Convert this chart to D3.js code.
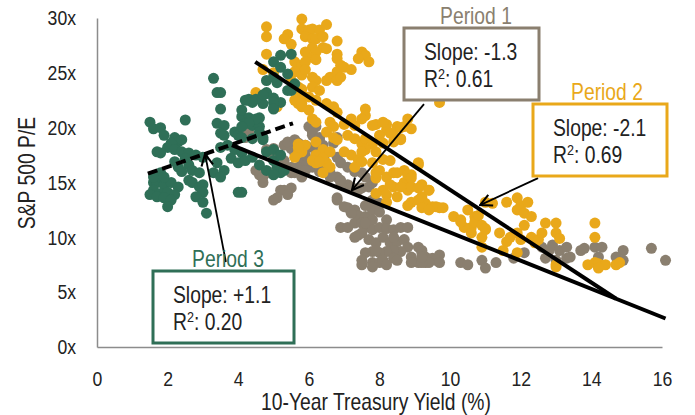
<!DOCTYPE html>
<html>
<head>
<meta charset="utf-8">
<script src="https://cdn.jsdelivr.net/npm/d3@7"></script>
<style>
  body { margin: 0; background: #fff; }
  svg { font-family: "Liberation Sans", Arial, sans-serif; }
</style>
</head>
<body>
<svg id="chart" width="695" height="415"></svg>
<script>
"use strict";

// yield (%), S&P 500 P/E
let period1 = [
  [4.2,19.8],[4.3,19.3],[5.3,18.4],[5.5,18.1],[5.6,17.7],[5.8,17.2],[5.9,16.9],[6.1,16.4],[6.3,16.0],[6.6,15.9],
  [6.8,15.5],[6.9,15.0],[7.1,14.8],[7.2,14.6],[7.4,14.3],[7.5,14.5],[7.7,14.6],[5.9,18.4],[6.1,18.2],[6.0,20.1],
  [6.1,19.3],[6.3,18.9],[6.5,17.7],[6.8,17.3],[6.9,16.8],[7.1,16.4],[7.3,16.0],[7.5,15.9],[7.6,15.5],[7.8,15.0],
  [4.6,15.7],[4.7,15.0],[5.2,14.3],[5.5,14.5],[5.1,13.6],[6.8,13.6],[7.1,12.7],[7.3,12.5],[6.9,10.9],[7.1,10.9],
  [7.3,11.3],[7.4,12.0],[7.6,11.9],[7.8,12.5],[8.0,12.3],[8.2,11.6],[7.8,11.6],[7.6,10.9],[7.8,10.7],[8.0,10.9],
  [8.2,10.8],[8.4,10.7],[8.6,10.9],[7.4,10.2],[7.5,10.4],[7.7,9.8],[7.9,9.5],[8.1,10.0],[8.3,9.5],[8.5,9.6],
  [8.7,9.8],[8.8,9.1],[8.6,8.7],[8.4,8.8],[8.2,8.7],[8.0,8.6],[7.8,8.7],[7.6,8.6],[7.5,7.9],[7.5,7.5],
  [7.8,7.7],[8.0,7.7],[8.1,7.9],[8.4,8.1],[8.5,7.9],[8.9,8.2],[9.1,9.1],[9.2,8.6],[9.3,8.2],[9.5,8.1],
  [9.7,8.4],[9.1,7.7],[8.9,7.7],[9.3,7.7],[10.3,7.7],[10.5,7.5],[7.8,13.4],[8.0,13.1],[7.6,12.9],[6.8,13.4],
  [7.0,12.8],[7.2,12.2],[7.3,10.0],[7.9,8.8],[8.4,10.0],[8.8,10.9],[9.2,8.8],[9.6,7.9],[9.4,7.7],[9.2,7.7],
  [8.2,7.5],[7.8,7.3],[10.9,7.9],[11.0,7.2],[11.3,7.7],[11.8,8.1],[12.1,8.6],[12.6,9.1],[12.8,8.8],[12.9,9.3],
  [12.7,8.1],[13.1,8.8],[13.3,9.1],[13.3,8.1],[13.7,8.8],[13.8,9.0],[14.1,9.1],[14.3,9.1],[14.2,8.2],[14.9,8.8],
  [14.9,7.9],[15.7,9.0],[16.1,7.9],[9.7,7.7],[13.0,7.9],[13.4,8.2],[14.7,8.2],[9.2,8.2],[4.3,19.6],[4.2,19.1],
  [4.8,18.0],[5.0,18.1],[5.4,18.7],[5.6,18.9],[5.7,18.6],[5.8,18.1],[5.9,17.5],[4.5,16.1],[4.7,15.5],[4.9,15.9],
  [5.1,16.1],[5.3,16.4],[5.5,15.9],[5.7,16.4],[5.8,16.1],[6.2,20.1],[6.1,19.6],[6.3,19.1],[6.4,18.4],[6.7,18.6],
  [6.8,19.1],[6.2,18.0],[6.4,17.7],[5.0,17.3],[5.3,17.0],[5.5,16.4],[5.6,15.9],[5.8,15.5],[5.9,16.1],[6.4,16.4],
  [6.6,15.5],[6.9,15.2],[5.3,14.3],[5.4,13.9],[5.0,13.4],[7.5,11.3],[7.6,11.3]
];

let period2 = [
  [4.8,29.2],[4.8,28.3],[5.4,28.5],[5.3,28.1],[5.5,27.6],[5.8,29.9],[5.8,29.0],[6.0,28.9],[6.1,29.0],[6.3,28.9],
  [6.5,29.4],[5.9,28.3],[6.1,28.1],[6.2,28.1],[6.4,28.3],[6.8,27.9],[6.1,27.3],[6.4,27.3],[6.5,27.2],[6.2,26.9],
  [5.9,26.9],[6.1,26.4],[6.8,26.7],[6.8,26.3],[6.9,25.7],[7.5,26.9],[7.6,26.6],[7.4,26.3],[7.7,26.0],[4.8,26.7],
  [5.6,26.0],[5.8,25.7],[5.9,26.0],[6.2,26.2],[5.6,25.1],[5.8,24.8],[5.9,25.3],[6.1,24.6],[6.2,24.3],[6.5,24.3],
  [6.6,24.6],[6.8,25.1],[7.0,25.5],[7.2,25.3],[6.8,24.3],[6.9,24.6],[5.7,23.7],[5.8,23.5],[6.1,23.7],[6.3,23.4],
  [5.8,23.0],[6.0,22.8],[6.2,22.5],[4.5,23.2],[5.7,22.2],[5.8,21.9],[6.0,21.6],[6.5,22.2],[6.7,21.9],[6.8,21.4],
  [6.1,20.8],[6.2,20.5],[6.6,20.5],[6.7,20.1],[7.0,20.3],[7.2,20.8],[7.3,20.2],[7.6,21.7],[7.6,21.1],[7.5,20.8],
  [7.9,20.3],[8.2,20.3],[8.5,20.1],[8.8,20.8],[8.7,20.1],[8.2,19.8],[8.4,19.3],[8.6,19.0],[8.9,19.9],[9.1,23.4],
  [9.7,22.3],[6.5,19.6],[6.7,19.1],[6.8,18.9],[7.1,19.3],[7.3,19.0],[7.5,18.5],[7.6,19.0],[7.8,18.5],[7.6,18.0],
  [7.9,17.8],[7.5,17.8],[5.7,18.5],[5.9,18.4],[6.2,18.7],[6.4,18.0],[6.6,17.8],[6.2,17.5],[6.4,17.1],[7.0,17.8],
  [7.2,17.5],[7.4,17.1],[8.1,17.1],[8.3,17.0],[5.8,17.8],[5.7,17.7],[7.8,20.2],[8.1,20.5],[8.6,20.0],[8.3,19.5],
  [8.0,19.3],[8.1,18.6],[8.4,18.7],[8.6,18.9],[6.2,16.8],[6.5,16.8],[6.6,16.4],[6.4,17.2],[6.1,17.0],[7.3,16.4],
  [7.5,16.9],[7.8,16.8],[8.0,16.1],[7.9,15.4],[8.2,15.5],[8.4,15.9],[8.7,16.1],[8.9,15.7],[9.1,16.6],[8.7,15.0],
  [8.4,14.6],[8.1,14.3],[7.9,14.0],[8.2,13.9],[8.5,13.7],[8.8,14.3],[8.9,14.6],[9.2,14.8],[9.4,14.3],[9.2,13.7],
  [8.9,13.2],[8.8,12.9],[9.3,13.1],[9.5,12.8],[9.7,12.7],[10.1,11.9],[10.3,11.6],[10.5,12.5],[10.7,11.9],[10.6,10.9],
  [10.4,10.9],[10.7,11.4],[10.3,11.4],[10.6,10.4],[10.9,10.0],[11.0,10.7],[11.0,13.2],[11.2,13.1],[11.6,13.2],[11.9,13.6],
  [12.0,12.9],[12.2,13.2],[11.9,12.5],[12.1,12.2],[12.3,11.9],[11.4,10.4],[11.6,9.6],[11.7,10.0],[11.9,10.4],[12.1,11.1],
  [12.0,9.8],[12.3,10.0],[12.4,9.5],[12.5,9.8],[11.9,8.6],[11.5,8.8],[12.7,11.3],[13.0,11.3],[12.6,10.4],[13.0,10.4],
  [13.1,9.9],[14.1,11.3],[14.1,10.0],[10.9,9.1],[13.0,7.3],[13.9,7.5],[14.1,7.7],[14.2,7.6],[14.4,7.5],[14.7,7.5],
  [14.2,7.2],[4.7,25.3],[5.0,25.0],[5.5,24.3],[5.7,23.4],[5.6,22.5],[5.8,22.2],[5.1,21.9],[5.7,18.2],[5.6,17.3],
  [6.3,16.9],[6.4,15.9],[7.9,15.9],[8.5,15.9],[8.8,15.7],[8.9,15.4],[8.3,14.8],[8.6,14.6],[9.1,14.5],[9.4,14.3],
  [9.1,13.4],[9.6,12.8],[9.8,12.7],[8.2,13.2],[9.2,12.7],[9.4,12.5],[10.8,12.0],[10.9,11.1],[11.0,10.8],[9.1,16.8],
  [13.0,7.5],[14.8,7.7]
];

let period3 = [
  [3.3,24.5],[3.4,23.2],[3.5,23.2],[3.5,21.7],[2.5,20.7],[1.5,20.5],[1.6,19.9],[1.8,20.0],[1.9,19.3],[2.2,19.1],
  [2.3,18.7],[2.4,18.9],[3.4,20.4],[3.6,20.2],[3.5,19.5],[3.6,19.3],[4.1,21.0],[4.3,20.9],[4.5,20.7],[4.2,20.4],
  [4.4,20.2],[4.6,20.1],[3.9,19.6],[4.0,19.3],[4.8,23.2],[5.0,22.7],[4.7,22.2],[4.3,22.5],[5.0,21.8],[5.2,22.3],
  [4.8,24.3],[5.1,24.1],[5.4,23.4],[2.0,18.2],[2.1,18.6],[2.2,18.0],[2.4,17.8],[1.7,17.8],[1.8,17.7],[2.6,17.7],
  [2.8,17.5],[3.0,17.3],[2.5,17.2],[2.2,16.9],[2.3,16.4],[2.6,16.6],[2.7,16.1],[2.4,16.0],[2.9,15.9],[3.5,18.2],
  [3.7,18.4],[3.9,18.0],[4.1,17.7],[3.8,17.2],[4.0,16.8],[4.2,17.0],[3.4,16.8],[3.6,16.1],[3.3,15.9],[3.5,15.5],
  [4.4,17.3],[4.6,16.6],[4.8,16.1],[5.0,17.0],[5.1,16.4],[5.2,15.9],[5.0,15.7],[1.6,15.0],[1.7,15.0],[1.9,14.8],
  [2.1,15.0],[2.3,14.6],[1.6,14.3],[1.8,14.0],[2.0,14.1],[2.2,13.9],[1.5,13.9],[1.7,13.7],[1.9,13.6],[2.1,13.4],
  [2.0,12.8],[1.8,15.9],[1.9,15.5],[1.6,15.5],[2.6,15.2],[2.7,15.0],[2.9,14.6],[3.0,14.8],[3.0,14.1],[2.8,13.7],
  [3.0,13.2],[3.1,12.2],[4.0,14.1],[4.3,22.6],[4.6,20.9],[5.2,26.6],[5.5,26.7],[5.0,26.0],[5.2,25.5],[5.4,24.9],
  [5.0,24.6],[5.6,24.0],[5.5,23.4],[4.8,23.1],[4.5,22.6],[4.4,22.3],[4.7,23.0],[5.0,22.3],[5.0,21.7],[4.5,20.8],
  [4.6,19.6],[4.4,19.0],[4.7,19.1],[4.8,17.8],[5.0,18.0],[5.2,17.5],[4.2,22.5],[4.1,21.6],[4.3,20.4],[4.1,20.1],
  [4.1,19.1],[4.7,18.9],[5.3,16.1],[4.1,14.1]
];

let xTicks = [0, 2, 4, 6, 8, 10, 12, 14, 16];
let yTicks = [0, 5, 10, 15, 20, 25, 30];

// trend lines [x0, y0, x1, y1]
let fit1 = [3.82, 18.4, 16.1, 2.6];
let fit2 = [4.48, 26.0, 14.7, 4.4];
let fit3 = [1.44, 15.8, 5.55, 20.4];

let notes = [
  { title: "Period 1", slope: "Slope: -1.3", r2: "0.61", color: "#8a7f6f", box: [404, 28, 135, 72], titleX: 476, arrow: [9.26, 22.15, 7.22, 14.3] },
  { title: "Period 2", slope: "Slope: -2.1", r2: "0.69", color: "#e9a81a", box: [533, 104, 134, 72], titleX: 607, arrow: [12.49, 15.4, 10.85, 12.94] },
  { title: "Period 3", slope: "Slope: +1.1", r2: "0.20", color: "#2f6f57", box: [153, 271, 141, 72], titleX: 228, arrow: [3.65, 7.75, 3.06, 17.6] }
];

const NARROW = 0.84;
// squeeze text horizontally round its x, to get a narrow face
function condense(sel) {
  sel.each(function () {
    let t = d3.select(this);
    let ax = +t.attr("x") || 0;
    t.attr("transform", `translate(${ax},0) scale(${NARROW},1) translate(${-ax},0)`);
  });
}

let svg = d3.select("#chart");
let x = d3.scaleLinear().domain([0, 16]).range([97, 662]);
let y = d3.scaleLinear().domain([0, 30]).range([347, 18]);

let axisColor = "#8c8c8c";

let gx = svg.append("g").attr("transform", "translate(0,347)")
  .call(d3.axisBottom(x).tickValues(xTicks).tickSize(0).tickPadding(24));
let gy = svg.append("g").attr("transform", "translate(97,0)")
  .call(d3.axisLeft(y).tickValues(yTicks).tickSize(0).tickPadding(21).tickFormat(d => d + "x"));
[gx, gy].forEach(g => {
  g.select(".domain").attr("stroke", axisColor).attr("stroke-width", 1.5);
  g.selectAll("text").attr("fill", "#222").style("font-size", "21px").call(condense);
});

svg.append("text").attr("x", 376).attr("y", 410).attr("text-anchor", "middle")
  .attr("fill", "#222").style("font-size", "23px").text("10-Year Treasury Yield (%)").call(condense);
svg.append("text").attr("transform", `translate(35,173) rotate(-90) scale(${NARROW},1)`).attr("text-anchor", "middle")
  .attr("fill", "#222").style("font-size", "23px").text("S&P 500 P/E");

let series = [
  { data: period1, color: "#8a7f6f" },
  { data: period2, color: "#e9a81a" },
  { data: period3, color: "#2f6f57" }
];
series.forEach(s => {
  svg.append("g").selectAll("circle").data(s.data).enter()
    .append("circle")
    .attr("cx", d => x(d[0]))
    .attr("cy", d => y(d[1]))
    .attr("r", 5.5)
    .attr("fill", s.color);
});

[fit1, fit2, fit3].forEach((f, i) => {
  svg.append("line")
    .attr("x1", x(f[0])).attr("y1", y(f[1]))
    .attr("x2", x(f[2])).attr("y2", y(f[3]))
    .attr("stroke", "#000").attr("stroke-width", 4)
    .attr("stroke-dasharray", i == 2 ? "10,5" : null);
});

svg.append("defs").append("marker")
  .attr("id", "arrow").attr("markerUnits", "userSpaceOnUse")
  .attr("viewBox", "0 0 12 12").attr("refX", 11).attr("refY", 6)
  .attr("markerWidth", 14).attr("markerHeight", 14).attr("orient", "auto")
  .append("path").attr("d", "M1,1 L11,6 L1,11")
  .attr("fill", "none").attr("stroke", "#000").attr("stroke-width", 1.8);

notes.forEach(n => {
  svg.append("line")
    .attr("x1", x(n.arrow[0])).attr("y1", y(n.arrow[1]))
    .attr("x2", x(n.arrow[2])).attr("y2", y(n.arrow[3]))
    .attr("stroke", "#000").attr("stroke-width", 1.8)
    .attr("marker-end", "url(#arrow)");

  let b = n.box;
  svg.append("rect").attr("x", b[0]).attr("y", b[1]).attr("width", b[2]).attr("height", b[3])
    .attr("fill", "#fff").attr("stroke", n.color).attr("stroke-width", 3);
  svg.append("text").attr("x", n.titleX).attr("y", b[1] - 4)
    .attr("text-anchor", "middle").attr("fill", n.color).style("font-size", "23px").text(n.title)
    .call(condense);
  svg.append("text").attr("x", b[0] + 20).attr("y", b[1] + 32)
    .attr("fill", "#222").style("font-size", "23px").text(n.slope)
    .call(condense);
  let r = svg.append("text").attr("x", b[0] + 20).attr("y", b[1] + 59)
    .attr("fill", "#222").style("font-size", "23px");
  r.append("tspan").text("R");
  r.append("tspan").attr("dy", -8).style("font-size", "15px").text("2");
  r.append("tspan").attr("dy", 8).text(": " + n.r2);
  r.call(condense);
});
</script>
</body>
</html>
